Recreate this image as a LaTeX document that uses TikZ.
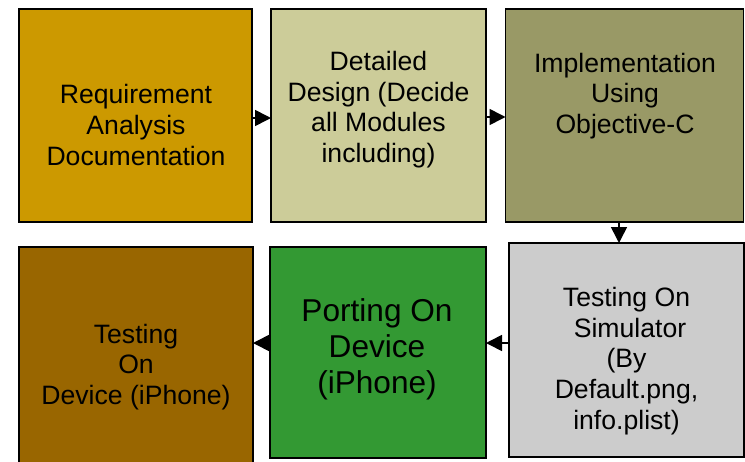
\documentclass[tikz,border=0pt]{standalone}
\usepackage{fontspec}
\setmainfont{Liberation Sans}
\usetikzlibrary{arrows.meta}
\definecolor{cA}{HTML}{CC9900}
\definecolor{cB}{HTML}{CCCC99}
\definecolor{cC}{HTML}{999966}
\definecolor{cD}{HTML}{996600}
\definecolor{cE}{HTML}{339933}
\definecolor{cF}{HTML}{CCCCCC}
\tikzset{
  boxnode/.style={draw=black, line width=1.8pt, rectangle, inner sep=0pt, outer sep=0pt},
  txt/.style={align=center, inner sep=0pt, font=\fontsize{26.6}{30.6}\selectfont},
  bigtxt/.style={align=center, inner sep=0pt, font=\fontsize{31.6}{36}\selectfont},
  arr/.style={line width=1.6pt, -{Triangle[length=16pt,width=16pt]}}
}
\begin{document}
\begin{tikzpicture}[x=1pt,y=-1pt]
\useasboundingbox (0,0) rectangle (745,461);
\clip (0,0) rectangle (745,461);
\fill[white] (0,0) rectangle (745,461);
% boxes
\node[boxnode, fill=cA, minimum width=233, minimum height=213] (b1) at (135.5,115.5) {};
\node[boxnode, fill=cB, minimum width=215, minimum height=213] (b2) at (378.5,115.5) {};
\node[boxnode, fill=cC, minimum width=238, minimum height=213] (b3) at (624.5,115.5) {};
\node[boxnode, fill=cD, minimum width=234, minimum height=230] (b4) at (136,362) {};
\node[boxnode, fill=cE, minimum width=216, minimum height=211] (b5) at (378,352.5) {};
\node[boxnode, fill=cF, minimum width=235, minimum height=214] (b6) at (626.5,350) {};
% texts
\node[txt] (t1) at (136,125) {Requirement\\Analysis\\Documentation};
\node[txt] (t2) at (378.5,109.5) {Detailed\\Design (Decide\\all Modules\\including)};
\node[txt] (t3) at (625,96) {Implementation\\Using\\Objective-C};
\node[txt] (t4) at (136,367) {Testing\\On\\Device (iPhone)};
\node[bigtxt] (t5) at (377,349) {Porting On\\Device\\(iPhone)};
\node[txt] (t6) at (626.5,361) {Testing On\\\hspace*{7pt}Simulator\\(By\\Default.png,\\info.plist)};
% connectors
\coordinate (r1) at (0,118);
\coordinate (r2) at (0,117);
\coordinate (c3) at (619,0);
\coordinate (r4) at (0,343);
\draw[arr] (b1.east |- r1) -- (b2.west |- r1);
\draw[arr] (b2.east |- r2) -- (b3.west |- r2);
\draw[arr] (b3.south -| c3) -- (b6.north -| c3);
\draw[arr] (b6.west |- r4) -- (b5.east |- r4);
\draw[arr] (b5.west |- r4) -- (b4.east |- r4);
\end{tikzpicture}
\end{document}
